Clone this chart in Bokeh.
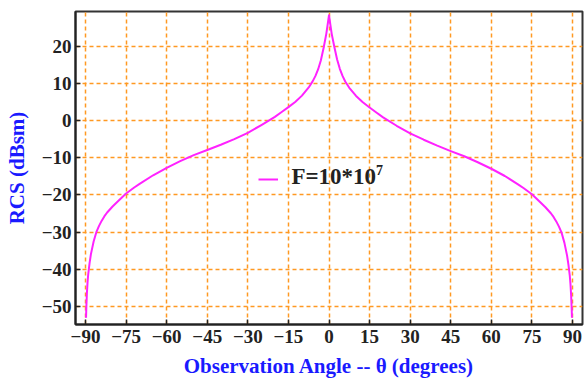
from bokeh.plotting import figure
from bokeh.models import Range1d, FixedTicker, Legend, LegendItem, Label
from bokeh.embed import file_html
from bokeh.resources import INLINE

# Observation angle (degrees) and RCS (dBsm)
angle = [-89.8, -89.7, -89.5, -89.25, -89, -88.5, -88, -87, -86, -85, -84, -83, -82,
         -80, -78, -75, -72, -70, -65, -60, -55, -50, -45, -40, -35, -30, -25, -20,
         -17.5, -15, -12.5, -10, -7.5, -6, -5, -4, -3, -2, -1, -0.5, 0,
         0.5, 1, 2, 3, 4, 5, 6, 7.5, 10, 12.5, 15, 17.5, 20, 25, 30, 35, 40, 45,
         50, 55, 60, 65, 70, 72, 75, 78, 80, 82, 83, 84, 85, 86, 87, 88, 88.5, 89,
         89.25, 89.5, 89.7, 89.8]
rcs = [-53, -50.3, -46.6, -43.5, -41.3, -38.3, -35.9, -32.5, -30, -28.3, -26.9, -25.7, -24.7,
       -23.1, -21.7, -19.6, -18.0, -17.0, -14.7, -12.7, -10.9, -9.3, -7.9, -6.5, -5.0, -3.3, -1.2, 1.0,
       2.3, 3.6, 5.0, 6.7, 8.9, 10.6, 12.0, 13.8, 16.2, 19.5, 23.3, 25.8, 28.3,
       25.8, 23.3, 19.7, 16.4, 13.9, 12.0, 10.5, 8.8, 6.6, 4.9, 3.5, 2.15, 0.85, -1.4, -3.45, -5.15, -6.75, -8.2,
       -9.6, -11.2, -12.95, -14.9, -17.2, -18.2, -19.8, -21.9, -23.3, -24.9, -25.9, -27.1, -28.5, -30.2, -32.8, -36.3, -38.7, -41.7,
       -43.9, -47.0, -50.5, -53]

x_ticks = [-90, -75, -60, -45, -30, -15, 0, 15, 30, 45, 60, 75, 90]
y_ticks = [-50, -40, -30, -20, -10, 0, 10, 20]
legend_label = "F=10*10"
legend_exponent = "7"
x_title = "Observation Angle -- \u03b8 (degrees)"
y_title = "RCS (dBsm)"


def minus(v):
    return str(v).replace("-", "\u2212")


p = figure(width=584, height=386, output_backend="svg", toolbar_location=None,
           x_range=Range1d(-93.7, 93.7), y_range=Range1d(-54.8, 29.3),
           min_border_left=75, min_border_right=2, min_border_top=11, min_border_bottom=62)

p.background_fill_color = "white"
p.border_fill_color = "white"
p.outline_line_color = "#333333"
p.outline_line_width = 2
p.outline_line_alpha = 1

r = p.line(angle, rcs, line_color="#FF22FF", line_width=2, line_join="round")

serif = "Liberation Serif"
for ax, ticks in ((p.xaxis[0], x_ticks), (p.yaxis[0], y_ticks)):
    ax.ticker = FixedTicker(ticks=ticks)
    ax.major_label_overrides = {t: minus(t) for t in ticks}
    ax.minor_tick_line_color = None
    ax.major_tick_in = 5
    ax.major_tick_out = 0
    ax.major_tick_line_color = "#222222"
    ax.major_tick_line_width = 1.5
    ax.axis_line_color = "#222222"
    ax.axis_line_width = 2
    ax.major_label_text_font = serif
    ax.major_label_text_font_style = "bold"
    ax.major_label_text_font_size = "19px"
    ax.major_label_text_color = "#222222"
    ax.axis_label_text_font = serif
    ax.axis_label_text_font_style = "bold"
    ax.axis_label_text_font_size = "21px"
    ax.axis_label_text_color = "#1a1aff"

p.xaxis.axis_label = x_title
p.yaxis.axis_label = y_title
p.xaxis.major_label_standoff = 5
p.yaxis.major_label_standoff = 4
p.xaxis.axis_label_standoff = 8
p.yaxis.axis_label_standoff = 10

p.xgrid.ticker = FixedTicker(ticks=x_ticks)
p.ygrid.ticker = FixedTicker(ticks=y_ticks)
for g in (p.xgrid[0], p.ygrid[0]):
    g.grid_line_color = "#FF9922"
    g.grid_line_width = 1.5
    g.grid_line_dash = "4 3"

legend = Legend(items=[LegendItem(label=" ", renderers=[r])],
                location=(183, 135), padding=0, margin=0, spacing=0,
                glyph_width=20, glyph_height=20, label_standoff=0,
                label_text_font=serif, label_text_font_size="22px",
                background_fill_alpha=0, border_line_color=None)
p.add_layout(legend, "center")

p.add_layout(Label(x=-13.9, y=-15.05, text=legend_label, text_font=serif,
                   text_font_style="bold", text_font_size="23px",
                   text_color="#222222", text_baseline="alphabetic"))
p.add_layout(Label(x=17.4, y=-13.2, text=legend_exponent, text_font=serif,
                   text_font_style="bold", text_font_size="14px",
                   text_color="#222222", text_baseline="alphabetic"))

open("out.html", "w").write(file_html(p, INLINE))
